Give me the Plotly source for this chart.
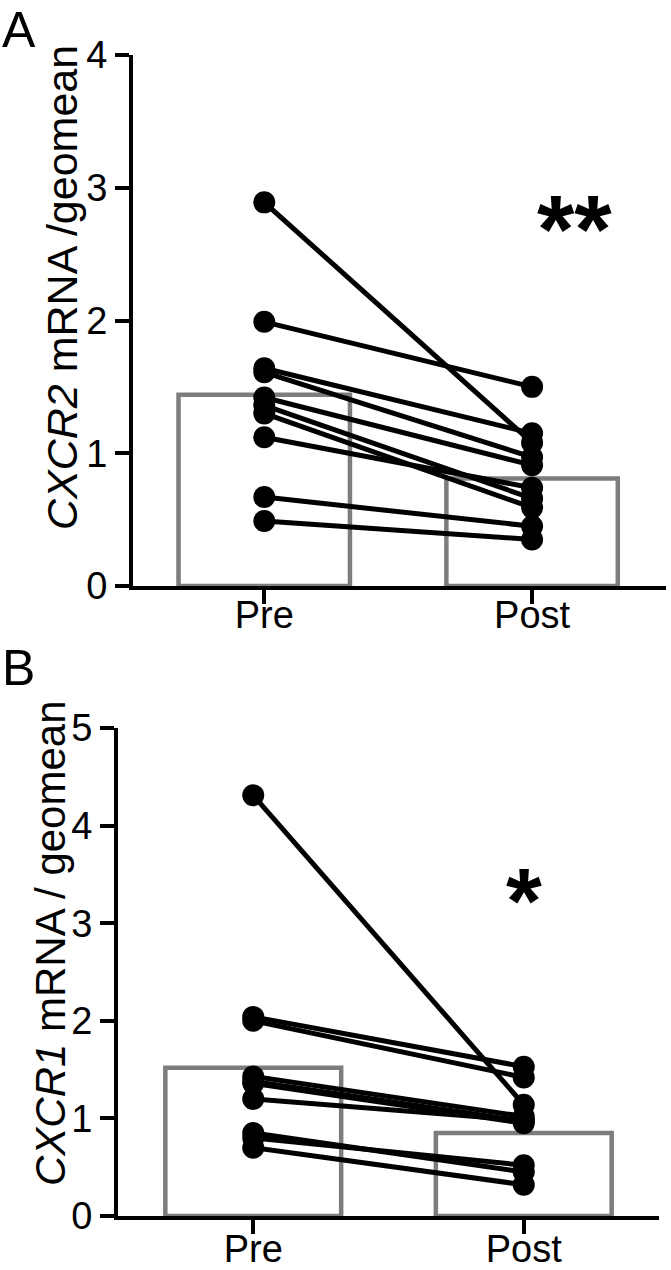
import plotly.graph_objects as go

W, H = 671, 1270

groups = ["Pre", "Post"]

# Panel A: CXCR2
a_pre = [2.89, 1.99, 1.64, 1.61, 1.42, 1.36, 1.30, 1.12, 0.67, 0.49]
a_post = [1.08, 1.50, 1.15, 0.97, 0.91, 0.66, 0.59, 0.74, 0.45, 0.35]
a_bar = [1.44, 0.81]
a_yticks = [0, 1, 2, 3, 4]

# Panel B: CXCR1
b_pre = [4.31, 2.04, 2.00, 1.43, 1.38, 1.36, 1.20, 0.85, 0.80, 0.70]
b_post = [1.14, 1.53, 1.42, 1.02, 0.97, 0.95, 0.98, 0.45, 0.52, 0.32]
b_bar = [1.52, 0.85]
b_yticks = [0, 1, 2, 3, 4, 5]

FONT = "Liberation Sans, Arial, sans-serif"
GRAY = "#7d7d7d"


def px(x):
    return x / W


def py(y):
    return 1 - y / H


fig = go.Figure()

# bars
fig.add_trace(go.Bar(x=groups, y=a_bar, width=0.64, marker=dict(color="rgba(0,0,0,0)",
                     line=dict(color=GRAY, width=4.5)), xaxis="x", yaxis="y", showlegend=False))
fig.add_trace(go.Bar(x=groups, y=b_bar, width=0.65, marker=dict(color="rgba(0,0,0,0)",
                     line=dict(color=GRAY, width=4.5)), xaxis="x2", yaxis="y2", showlegend=False))

for p, q in zip(a_pre, a_post):
    fig.add_trace(go.Scatter(x=groups, y=[p, q], mode="lines+markers",
                             line=dict(color="black", width=5),
                             marker=dict(color="black", size=22),
                             xaxis="x", yaxis="y", showlegend=False, cliponaxis=False))
for p, q in zip(b_pre, b_post):
    fig.add_trace(go.Scatter(x=groups, y=[p, q], mode="lines+markers",
                             line=dict(color="black", width=5),
                             marker=dict(color="black", size=22),
                             xaxis="x2", yaxis="y2", showlegend=False, cliponaxis=False))

axis_common = dict(showline=True, linecolor="black", linewidth=4, ticks="outside",
                   ticklen=14, tickwidth=4, tickcolor="black", showgrid=False, zeroline=False,
                   automargin=False,
                   tickfont=dict(family=FONT, size=38, color="black"))

fig.update_layout(
    width=W, height=H, margin=dict(l=0, r=0, t=0, b=0),
    plot_bgcolor="white", paper_bgcolor="white", barmode="overlay",
    xaxis=dict(domain=[px(133), px(666)], anchor="y", type="category",
               categoryorder="array", categoryarray=groups, range=[-0.49, 1.5],
               ticklabelstandoff=-22, **axis_common),
    yaxis=dict(domain=[py(586), py(55)], anchor="x", range=[0, 4], tickvals=a_yticks,
               **axis_common),
    xaxis2=dict(domain=[px(118), px(659)], anchor="y2", type="category",
                categoryorder="array", categoryarray=groups, range=[-0.5, 1.5],
                ticklabelstandoff=-18, **axis_common),
    yaxis2=dict(domain=[py(1216), py(728)], anchor="x2", range=[0, 5], tickvals=b_yticks,
                **axis_common),
)

anns = [
    dict(text="A", x=px(0), y=py(0), xanchor="left", yanchor="top",
         font=dict(family=FONT, size=50, color="black")),
    dict(text="B", x=px(0), y=py(638), xanchor="left", yanchor="top",
         font=dict(family=FONT, size=50, color="black")),
    dict(text="<i>CXCR2</i> mRNA /geomean", x=px(62), y=py(288), textangle=-90,
         xanchor="center", yanchor="middle", font=dict(family=FONT, size=43, color="black")),
    dict(text="<i>CXCR1</i> mRNA / geomean", x=px(50), y=py(943), textangle=-90,
         xanchor="center", yanchor="middle", font=dict(family=FONT, size=42, color="black")),
]
for a in anns:
    a.update(xref="paper", yref="paper", showarrow=False)
    fig.add_annotation(**a)

fig.add_annotation(text="<b>**</b>", x=1.16, y=2.69, xref="x", yref="y", showarrow=False,
                   xanchor="center", yanchor="middle", font=dict(family=FONT, size=96, color="black"))
fig.add_annotation(text="<b>*</b>", x=1.0, y=3.23, xref="x2", yref="y2", showarrow=False,
                   xanchor="center", yanchor="middle", font=dict(family=FONT, size=92, color="black"))

fig.write_html("out.html")
